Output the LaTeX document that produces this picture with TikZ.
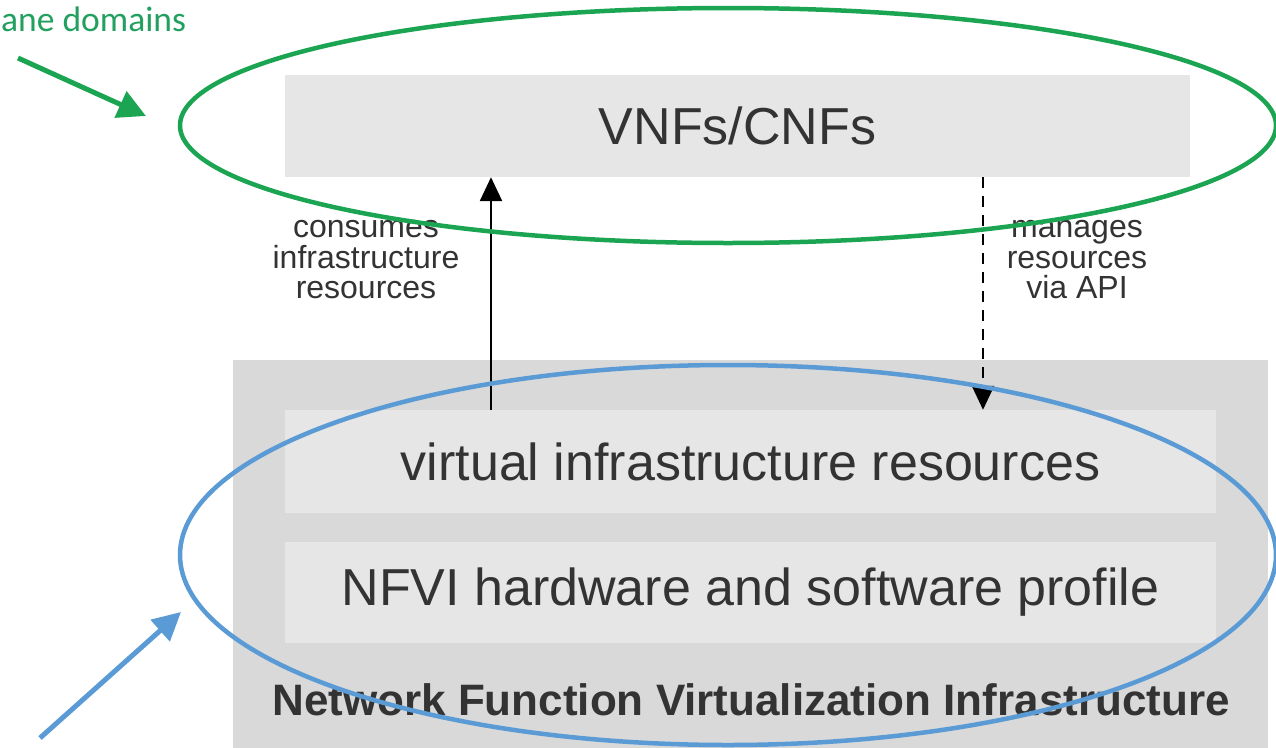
\documentclass[tikz,border=0pt]{standalone}
\usepackage{fontspec}
\setmainfont{Liberation Sans}
\newfontfamily\calfont{Carlito}
\usetikzlibrary{arrows.meta,shapes.geometric}
\definecolor{boxlight}{HTML}{E6E6E6}
\definecolor{boxdark}{HTML}{D9D9D9}
\definecolor{inktext}{HTML}{333333}
\definecolor{planegreen}{HTML}{1BA552}
\definecolor{labelgreen}{HTML}{22A060}
\definecolor{infrablue}{HTML}{5B9BD5}
\tikzset{
  layer/.style={fill=boxlight, draw=none, inner sep=0pt, text=inktext},
  biglabel/.style={font=\fontsize{52}{56}\selectfont},
  smalllabel/.style={align=center, text=inktext, font=\fontsize{32}{30.5}\selectfont, inner sep=0pt},
  flowarrow/.style={draw=black, line width=2.5pt, -{Triangle[length=24pt,width=22pt]}},
  domainring/.style={line width=4.5pt},
}
\begin{document}
\begin{tikzpicture}[x=1pt,y=-1pt]
\useasboundingbox (0,0) rectangle (1276,747);
\clip (0,0) rectangle (1276,747);
\fill[white] (0,0) rectangle (1276,747);

% infrastructure block
\node[fill=boxdark, inner sep=0pt, minimum width=1035pt, minimum height=400pt] (nfvi) at (750.5,560) {};
\node[layer, biglabel, minimum width=931pt, minimum height=103pt] (virt) at (750.5,461.5) {virtual infrastructure resources};
\node[layer, biglabel, minimum width=931pt, minimum height=101pt] (hw) at (750.5,592.5) {NFVI hardware and software profile};
\node[text=inktext, font=\fontsize{44}{48}\bfseries\selectfont, inner sep=0pt] (nfvititle) at (751,700) {Network Function Virtualization Infrastructure};

% network functions
\node[layer, biglabel, minimum width=905pt, minimum height=102pt] (vnf) at (737.5,126) {VNFs/CNFs};

% relations between the layers
\node[smalllabel] (consumes) at (366,260) {consumes\\infrastructure\\resources};
\node[smalllabel] (manages) at (1077,260) {manages\\resources\\via API};
\coordinate (upx) at (491,0);
\coordinate (downx) at (983,0);
\draw[flowarrow] (virt.north -| upx) -- (vnf.south -| upx);
\draw[flowarrow, dash pattern=on 11pt off 8pt] (vnf.south -| downx) -- (virt.north -| downx);

% domain outlines
\node[draw=planegreen, domainring, ellipse, minimum width=1096pt, minimum height=235pt, inner sep=0pt] (greenring) at (728,125.5) {};
\node[draw=infrablue, domainring, ellipse, minimum width=1096pt, minimum height=380pt, inner sep=0pt] (bluering) at (728,555) {};

% domain callouts
\node[text=labelgreen, font=\calfont\fontsize{35.5}{38}\selectfont, anchor=west, inner sep=0pt] (planelabel) at (1,19) {ane domains};
\coordinate (gtail) at (18,58);
\coordinate (gtip) at (146,116);
\draw[planegreen, line width=5pt, -{Triangle[length=28pt,width=28pt]}] (gtail) -- (gtip);
\coordinate (btail) at (40,738);
\coordinate (btip) at (181,612);
\draw[infrablue, line width=5pt, -{Triangle[length=28pt,width=28pt]}] (btail) -- (btip);
\end{tikzpicture}
\end{document}
